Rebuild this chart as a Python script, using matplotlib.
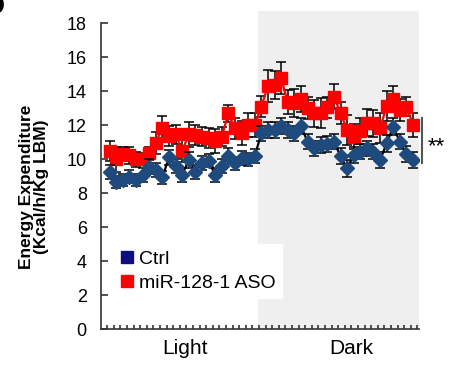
import matplotlib
matplotlib.use("Agg")
import matplotlib.pyplot as plt
from matplotlib.lines import Line2D
import matplotlib.transforms as mtransforms
import numpy as np

plt.rcParams['font.family'] = ['Liberation Sans', 'DejaVu Sans']

# ---- data ----
ctrl = [9.27, 8.68, 8.78, 8.98, 8.78, 9.08, 9.56, 9.37, 8.94, 10.12,
        9.62, 9.08, 9.96, 9.27, 9.80, 9.92, 9.08, 9.62, 10.19, 9.76,
        10.06, 10.00, 10.19, 11.53, 11.72, 11.72, 11.96, 11.72, 11.53, 11.96,
        11.04, 10.65, 10.84, 10.90, 11.04, 10.19, 9.47, 10.25, 10.45, 10.65,
        10.45, 9.96, 10.94, 11.92, 11.04, 10.31, 9.96]
ctrl_err = [0.40, 0.35, 0.35, 0.40, 0.35, 0.40, 0.45, 0.40, 0.40, 0.45,
            0.40, 0.40, 0.45, 0.40, 0.40, 0.40, 0.40, 0.40, 0.45, 0.40,
            0.40, 0.40, 0.40, 0.45, 0.45, 0.45, 0.45, 0.45, 0.45, 0.45,
            0.45, 0.45, 0.45, 0.45, 0.45, 0.45, 0.50, 0.45, 0.45, 0.45,
            0.45, 0.45, 0.50, 0.50, 0.45, 0.45, 0.45]
aso = [10.49, 10.00, 10.31, 10.25, 10.00, 10.00, 10.35, 10.98, 11.86, 11.37,
       11.47, 10.49, 11.47, 11.43, 11.33, 11.27, 11.08, 11.33, 12.70, 11.82,
       11.57, 12.02, 12.02, 13.10, 14.31, 14.37, 14.76, 13.37, 13.29, 13.55,
       13.00, 12.70, 12.70, 13.06, 13.68, 12.74, 11.72, 11.33, 11.66, 12.15,
       12.12, 11.82, 13.14, 13.55, 12.90, 13.10, 12.02]
aso_err = [0.61, 0.75, 0.43, 0.50, 0.45, 0.35, 0.40, 0.65, 0.69, 0.60,
           0.55, 0.65, 0.75, 0.60, 0.55, 0.60, 0.70, 0.55, 0.50, 0.60,
           0.70, 0.73, 0.73, 0.60, 0.94, 0.85, 0.94, 0.70, 0.82, 0.76,
           0.65, 0.78, 0.88, 0.63, 0.73, 0.65, 0.88, 0.75, 0.75, 0.78,
           0.78, 0.88, 0.88, 0.76, 0.63, 0.55, 0.73]
series_labels = ["Ctrl", "miR-128-1 ASO"]
period_labels = ["Light", "Dark"]
yticks = [0, 2, 4, 6, 8, 10, 12, 14, 16, 18]

n = len(ctrl)
x = np.arange(1, n + 1)

fig = plt.figure(figsize=(4.52, 3.68), dpi=100)
ax = fig.add_axes([0.2228, 0.105, 0.927 - 0.2228, 0.970 - 0.105])

xmin, xmax = -0.35, 47.9
ax.set_xlim(xmin, xmax)
ax.set_ylim(0, 18.72)

# dark phase shading
ax.axvspan(23.5, xmax, color='#efefef', zorder=0, lw=0)

blue = '#1f4a7e'
red = '#ff0000'

# ASO series
ax.errorbar(x, aso, yerr=aso_err, fmt='none', ecolor='black', elinewidth=1.1,
            capsize=3.5, capthick=1.1, zorder=2)
ax.plot(x, aso, color=red, lw=1.6, marker='s', ms=8.3, mfc=red, mec=red,
        zorder=3)

# Ctrl series
ax.errorbar(x, ctrl, yerr=ctrl_err, fmt='none', ecolor='black', elinewidth=1.1,
            capsize=3.5, capthick=1.1, zorder=4)
ax.plot(x, ctrl, color='black', lw=1.6, zorder=5)
ax.plot(x, ctrl, ls='none', marker='D', ms=6.8, mfc=blue, mec=blue, zorder=6)

# axes styling
for s in ['top', 'right']:
    ax.spines[s].set_visible(False)
ax.spines['left'].set_bounds(0, 18)
ax.spines['left'].set_linewidth(1.2)
ax.spines['bottom'].set_linewidth(1.2)
ax.spines['left'].set_color('#333333')
ax.spines['bottom'].set_color('#333333')

ax.set_yticks(yticks)
ax.set_yticklabels([str(t) for t in yticks], fontsize=13)
ax.tick_params(axis='y', direction='in', length=5, width=1.2, pad=10,
               color='#333333')
ax.set_xticks(np.arange(0, 48) + 0.65)
ax.set_xticklabels([])
ax.tick_params(axis='x', direction='in', length=3, width=1.2, color='#333333')

# Light / Dark labels
trans = mtransforms.blended_transform_factory(ax.transData, fig.transFigure)
ax.text(12.4, 0.054, period_labels[0], transform=trans, ha='center',
        va='center', fontsize=15)
ax.text(37.7, 0.054, period_labels[1], transform=trans, ha='center',
        va='center', fontsize=15)

# y label
fig.text(0.075, 0.492, "Energy Expenditure\n(Kcal/h/Kg LBM)", rotation=90,
         ha='center', va='center', fontsize=12.5, fontweight='bold',
         linespacing=1.05)

# significance bracket
ax.plot([48.33, 48.33], [9.78, 12.43], color='#555555', lw=1.5,
        clip_on=False)
ax.text(49.2, 10.75, "**", fontsize=16, ha='left', va='center',
        clip_on=False)

# legend
handles = [Line2D([], [], ls='none', marker='s', ms=9, mfc='#0d0d80',
                  mec='#0d0d80'),
           Line2D([], [], ls='none', marker='s', ms=9, mfc=red, mec=red)]
leg = ax.legend(handles, series_labels, loc='lower left',
                bbox_to_anchor=(115 / 452, 1 - 298 / 368),
                bbox_transform=fig.transFigure, fontsize=14, frameon=True,
                fancybox=False, framealpha=1, edgecolor='white',
                facecolor='white', handlelength=0.6, handletextpad=0.35,
                borderpad=0.3, labelspacing=0.35, borderaxespad=0)
leg.set_zorder(10)

# panel letter (cut off at top-left, as in the reference)
fig.text(-0.035, 1.015, "D", fontsize=20, fontweight='bold', ha='left',
         va='top')

fig.savefig("out.png", dpi=100)
